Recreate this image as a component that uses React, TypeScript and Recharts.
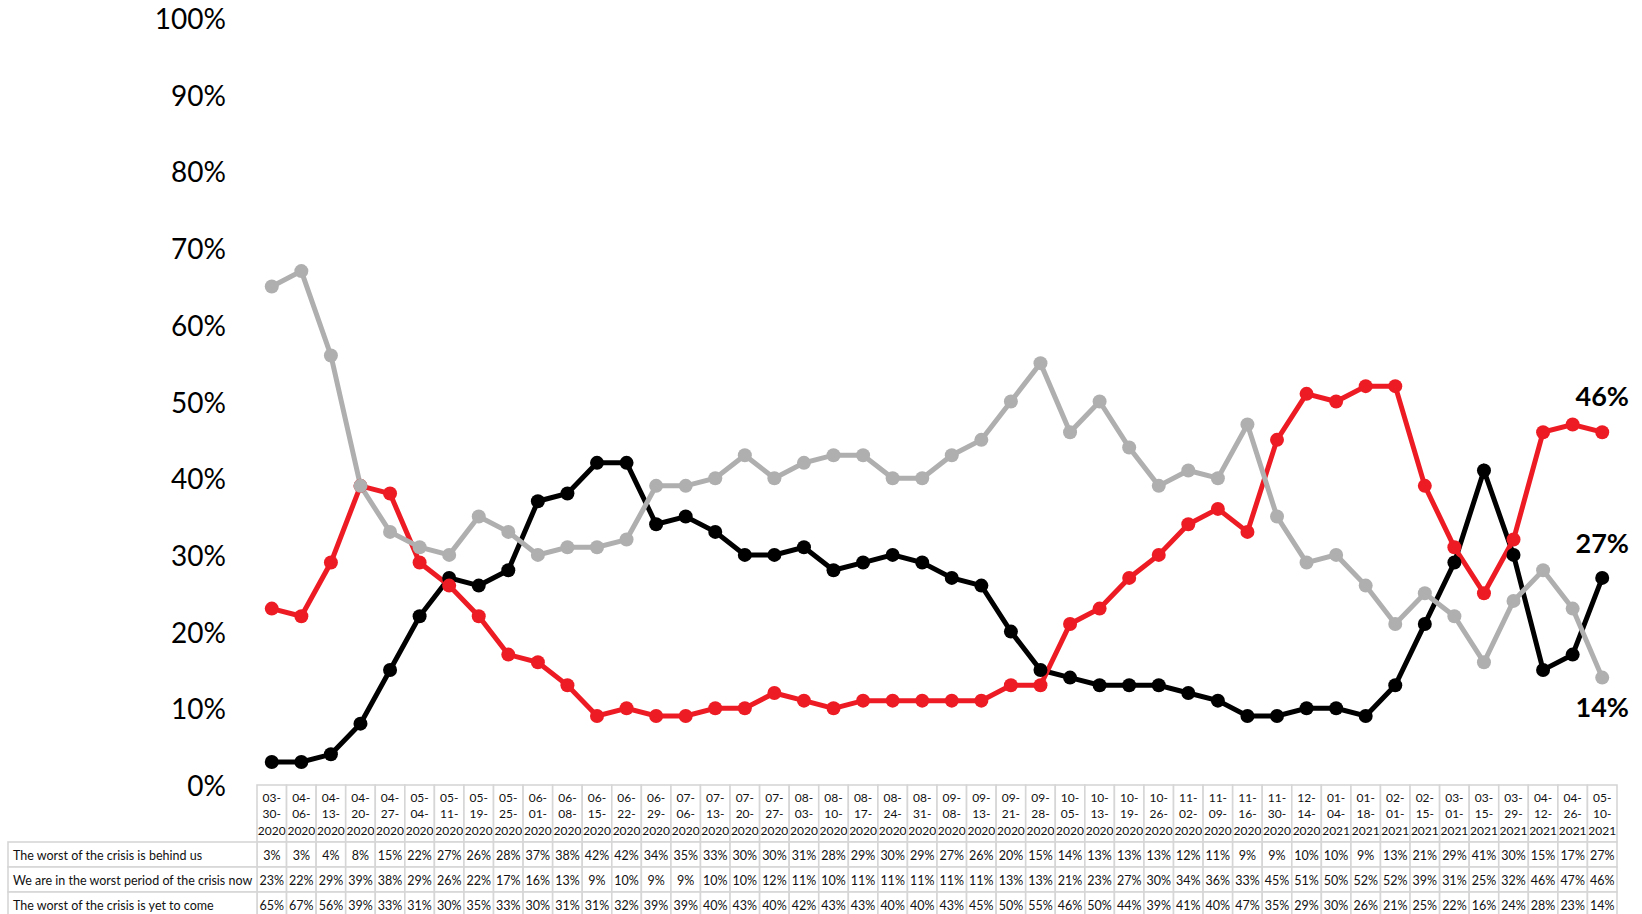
import { LineChart, Line, XAxis, YAxis } from "recharts"

const dates = [
  "03-30-2020", "04-06-2020", "04-13-2020", "04-20-2020", "04-27-2020", "05-04-2020",
  "05-11-2020", "05-19-2020", "05-25-2020", "06-01-2020", "06-08-2020", "06-15-2020",
  "06-22-2020", "06-29-2020", "07-06-2020", "07-13-2020", "07-20-2020", "07-27-2020",
  "08-03-2020", "08-10-2020", "08-17-2020", "08-24-2020", "08-31-2020", "09-08-2020",
  "09-13-2020", "09-21-2020", "09-28-2020", "10-05-2020", "10-13-2020", "10-19-2020",
  "10-26-2020", "11-02-2020", "11-09-2020", "11-16-2020", "11-30-2020", "12-14-2020",
  "01-04-2021", "01-18-2021", "02-01-2021", "02-15-2021", "03-01-2021", "03-15-2021",
  "03-29-2021", "04-12-2021", "04-26-2021", "05-10-2021",
]

const behindUs = [
  3, 3, 4, 8, 15, 22, 27, 26, 28, 37, 38, 42, 42, 34, 35, 33, 30, 30, 31, 28, 29, 30, 29,
  27, 26, 20, 15, 14, 13, 13, 13, 12, 11, 9, 9, 10, 10, 9, 13, 21, 29, 41, 30, 15, 17, 27,
]

const worstNow = [
  23, 22, 29, 39, 38, 29, 26, 22, 17, 16, 13, 9, 10, 9, 9, 10, 10, 12, 11, 10, 11, 11, 11,
  11, 11, 13, 13, 21, 23, 27, 30, 34, 36, 33, 45, 51, 50, 52, 52, 39, 31, 25, 32, 46, 47, 46,
]

const yetToCome = [
  65, 67, 56, 39, 33, 31, 30, 35, 33, 30, 31, 31, 32, 39, 39, 40, 43, 40, 42, 43, 43, 40, 40,
  43, 45, 50, 55, 46, 50, 44, 39, 41, 40, 47, 35, 29, 30, 26, 21, 25, 22, 16, 24, 28, 23, 14,
]

const rowLabels = [
  "The worst of the crisis is behind us",
  "We are in the worst period of the crisis now",
  "The worst of the crisis is yet to come",
]

const yTicks = [0, 10, 20, 30, 40, 50, 60, 70, 80, 90, 100]

const series = [behindUs, worstNow, yetToCome]

const data = dates.map((d, i) => ({
  date: d,
  behind: behindUs[i],
  now: worstNow[i],
  come: yetToCome[i],
}))

const W = 1642
const H = 914
const PLOT_LEFT = 257
const PLOT_RIGHT = 1617
const PLOT_TOP = 18
const PLOT_BOTTOM = 785
const COL_W = (PLOT_RIGHT - PLOT_LEFT) / dates.length
const HEADER_H = 57
const ROW_H = 25
const BORDER = "#d6d6d6"
const FONT = "Lato, 'Open Sans', sans-serif"

const RED = "#ed1c24"
const GRAY = "#afafaf"

function TableTick(props: any) {
  const { x, index, payload } = props
  const left = x - COL_W / 2
  const p = String(payload.value).split("-")
  const lines = [p[0] + "-", p[1] + "-", p[2]]
  const rowTop = PLOT_BOTTOM + HEADER_H
  return (
    <g fontFamily={FONT} fontSize={12.5} fill="#111">
      <rect x={left} y={PLOT_BOTTOM} width={COL_W} height={HEADER_H} fill="#fff" stroke={BORDER} strokeWidth={1.6} />
      {lines.map((t, k) => (
        <text key={k} x={x} y={PLOT_BOTTOM + 12 + k * 16.5} fontSize={12} textAnchor="middle" dominantBaseline="central">
          {t}
        </text>
      ))}
      {series.map((s, r) => (
        <g key={r}>
          <rect x={left} y={rowTop + r * ROW_H} width={COL_W} height={ROW_H} fill="#fff" stroke={BORDER} strokeWidth={1.6} />
          <text x={x} y={rowTop + r * ROW_H + ROW_H / 2 + 0.5} textAnchor="middle" dominantBaseline="central">
            {s[index]}%
          </text>
        </g>
      ))}
      {index === 0 &&
        rowLabels.map((lab, r) => (
          <g key={"l" + r}>
            <rect x={8} y={rowTop + r * ROW_H} width={left - 8} height={ROW_H} fill="#fff" stroke={BORDER} strokeWidth={1.6} />
            <text x={13} y={rowTop + r * ROW_H + ROW_H / 2 + 0.5} dominantBaseline="central">
              {lab}
            </text>
          </g>
        ))}
    </g>
  )
}

function YTick(props: any) {
  const { y, payload } = props
  return (
    <text x={226} y={y} textAnchor="end" dominantBaseline="central" fontFamily={FONT} fontSize={28} fill="#000">
      {payload.value}%
    </text>
  )
}

function endLabel(dy: number) {
  return (props: any) => {
    const { x, y, value, index } = props
    if (index !== dates.length - 1) return null
    return (
      <text
        x={x}
        y={y + dy}
        textAnchor="middle"
        dominantBaseline="central"
        fontFamily={FONT}
        fontWeight="bold"
        fontSize={27}
        fill="#000"
      >
        {value}%
      </text>
    )
  }
}

export default function App() {
  return (
    <div style={{ position: "absolute", left: 0, top: 0, width: W, height: H, background: "#fff" }}>
      <LineChart
        width={W}
        height={H}
        data={data}
        margin={{ top: PLOT_TOP, right: W - PLOT_RIGHT, bottom: 0, left: 0 }}
      >
        <XAxis
          dataKey="date"
          interval={0}
          axisLine={false}
          tickLine={false}
          height={H - PLOT_BOTTOM}
          padding={{ left: COL_W / 2, right: COL_W / 2 }}
          tick={<TableTick />}
        />
        <YAxis
          domain={[0, 100]}
          ticks={yTicks}
          width={PLOT_LEFT}
          axisLine={false}
          tickLine={false}
          tick={<YTick />}
        />
        <Line
          dataKey="behind"
          stroke="#000"
          strokeWidth={5}
          dot={{ r: 7, fill: "#000", stroke: "none" }}
          activeDot={false}
          label={endLabel(-35)}
          isAnimationActive={false}
        />
        <Line
          dataKey="now"
          stroke={RED}
          strokeWidth={5}
          dot={{ r: 7, fill: RED, stroke: "none" }}
          activeDot={false}
          label={endLabel(-37)}
          isAnimationActive={false}
        />
        <Line
          dataKey="come"
          stroke={GRAY}
          strokeWidth={5}
          dot={{ r: 7, fill: GRAY, stroke: "none" }}
          activeDot={false}
          label={endLabel(29)}
          isAnimationActive={false}
        />
      </LineChart>
    </div>
  )
}
